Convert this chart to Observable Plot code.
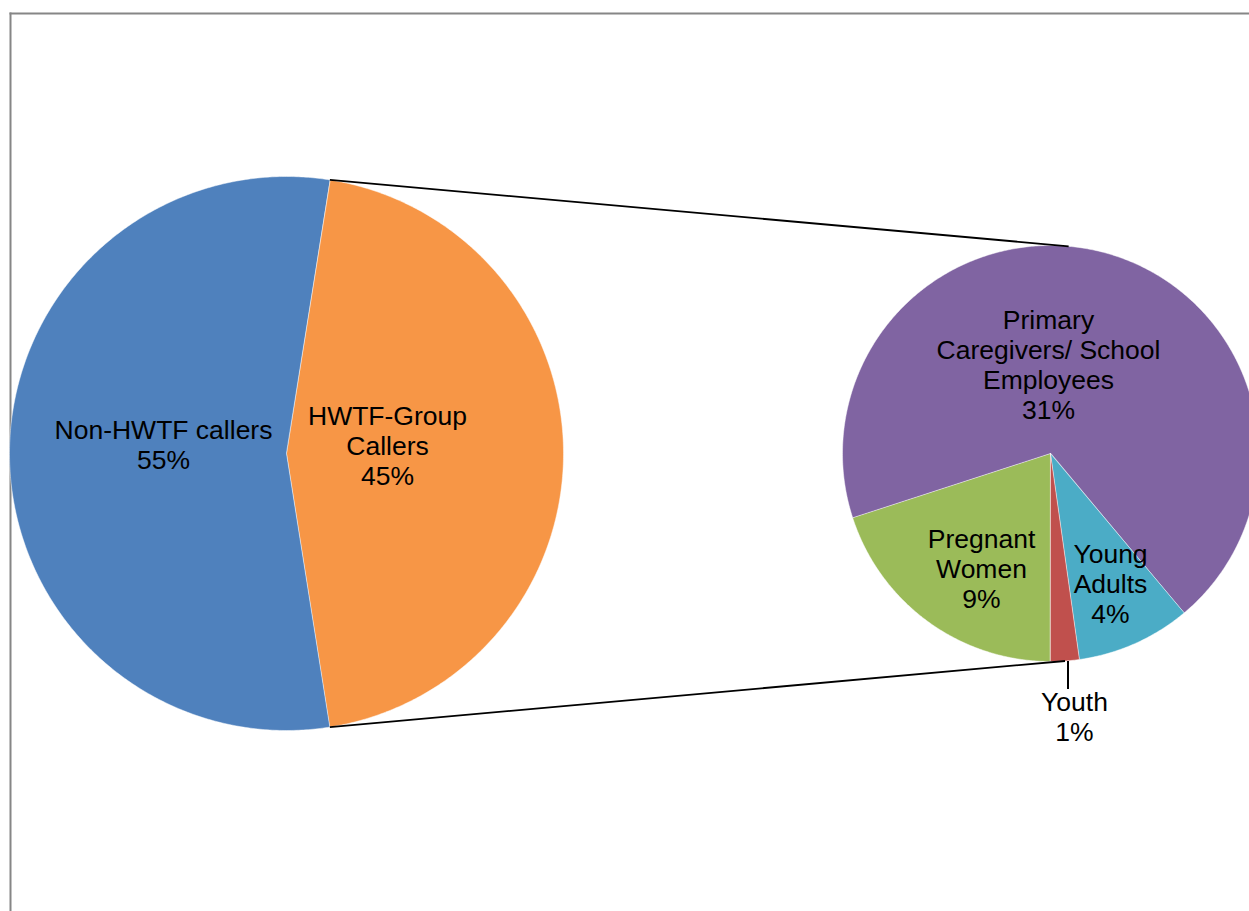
<!DOCTYPE html>
<html>
<head>
<meta charset="utf-8">
<script src="https://cdn.jsdelivr.net/npm/d3@7"></script>
<script src="https://cdn.jsdelivr.net/npm/@observablehq/plot@0.6"></script>
<style>
  html, body { margin: 0; padding: 0; background: #fff; }
  #chart svg { display: block; }
</style>
</head>
<body>
<div id="chart"></div>
<script>
// Callers: main split
const mainNames = ["HWTF-Group Callers", "Non-HWTF callers"];
const mainValues = [45, 55];
const mainLabels = ["HWTF-Group\nCallers\n45%", "Non-HWTF callers\n55%"];
const mainColors = ["#F79646", "#4F81BD"];

// Breakdown of the HWTF-Group callers
const subNames = ["Pregnant Women", "Primary Caregivers/ School Employees", "Young Adults", "Youth"];
const subValues = [9, 31, 4, 1];
const subLabels = ["Pregnant\nWomen\n9%", "Primary\nCaregivers/ School\nEmployees\n31%", "Young\nAdults\n4%", "Youth\n1%"];
const subColors = ["#9BBB59", "#8064A2", "#4BACC6", "#C0504D"];

// Layout (pixels)
const W = 1249, H = 911;
const frameLeft = 10, frameTop = 13;
const mainPie = {cx: 286, cy: 453, r: 277};
const subPie = {cx: 1050, cy: 453, r: 208};
const deg = Math.PI / 180;

// Label offsets from each pie centre
const mainLabelOffsets = [[101, -8], [-123, -9]];
const subLabelOffsets = [[-69, 115], [-2, -89], [60, 130], [24, 263]];

// Point on a circle, angle measured clockwise from 12 o'clock
const polar = (pie, a, k = 1) => ({x: pie.cx + k * pie.r * Math.sin(a), y: pie.cy - k * pie.r * Math.cos(a)});

function slicePolygons(pie, names, values, colors, startAngle) {
  const arcs = d3.pie().sort(null).value(d => d)
    .startAngle(startAngle).endAngle(startAngle + 2 * Math.PI)(values);
  const pts = [];
  arcs.forEach((arc, i) => {
    pts.push({name: names[i], color: colors[i], ...polar(pie, 0, 0)});
    const n = Math.max(2, Math.ceil((arc.endAngle - arc.startAngle) / (0.5 * deg)));
    for (let j = 0; j <= n; j++) {
      const a = arc.startAngle + (arc.endAngle - arc.startAngle) * j / n;
      pts.push({name: names[i], color: colors[i], ...polar(pie, a)});
    }
  });
  return {arcs, pts};
}

// The highlighted HWTF slice is centred on the right side of the main pie
const mainShare = mainValues[0] / d3.sum(mainValues);
const mainStart = Math.PI / 2 - Math.PI * mainShare;
const main = slicePolygons(mainPie, mainNames, mainValues, mainColors, mainStart);
const sub = slicePolygons(subPie, subNames, subValues, subColors, Math.PI);

const labels = [
  ...mainLabels.map((t, i) => ({text: t, x: mainPie.cx + mainLabelOffsets[i][0], y: mainPie.cy + mainLabelOffsets[i][1]})),
  ...subLabels.map((t, i) => ({text: t, x: subPie.cx + subLabelOffsets[i][0], y: subPie.cy + subLabelOffsets[i][1]}))
];

// Connector lines from the edges of the HWTF slice to the second pie
const hw = main.arcs[0];
const connectors = [
  {a: polar(mainPie, hw.startAngle), b: polar(subPie, 5 * deg)},
  {a: polar(mainPie, hw.endAngle), b: polar(subPie, 176 * deg)}
];

// Leader for the small Youth slice
const youthArc = sub.arcs[3];
const youthEdge = polar(subPie, (youthArc.startAngle + youthArc.endAngle) / 2);
const leader = [{x1: youthEdge.x + 3, y1: youthEdge.y, x2: youthEdge.x + 3, y2: youthEdge.y + 28}];

const chart = Plot.plot({
  width: W,
  height: H,
  marginLeft: frameLeft,
  marginTop: frameTop,
  marginRight: 0,
  marginBottom: 0,
  x: {domain: [frameLeft, W], axis: null},
  y: {domain: [H, frameTop], axis: null},
  color: {type: "identity"},
  style: {fontFamily: "'Liberation Sans', Arial, sans-serif", background: "#fff"},
  marks: [
    Plot.frame({anchor: "left", stroke: "#868686", strokeWidth: 2}),
    Plot.frame({anchor: "top", stroke: "#868686", strokeWidth: 2}),
    Plot.line(main.pts, {x: "x", y: "y", z: "name", fill: "color", stroke: "#fff", strokeWidth: 0.8, strokeOpacity: 0.6, curve: "linear-closed"}),
    Plot.line(sub.pts, {x: "x", y: "y", z: "name", fill: "color", stroke: "#fff", strokeWidth: 0.8, strokeOpacity: 0.6, curve: "linear-closed"}),
    Plot.link(connectors, {x1: d => d.a.x, y1: d => d.a.y, x2: d => d.b.x, y2: d => d.b.y, stroke: "#000", strokeWidth: 1.8}),
    Plot.link(leader, {x1: "x1", y1: "y1", x2: "x2", y2: "y2", stroke: "#000", strokeWidth: 2}),
    Plot.text(labels, {x: "x", y: "y", text: "text", fontSize: 26.5, lineHeight: 1.13, fill: "#000"})
  ]
});
document.getElementById("chart").append(chart);
</script>
</body>
</html>
